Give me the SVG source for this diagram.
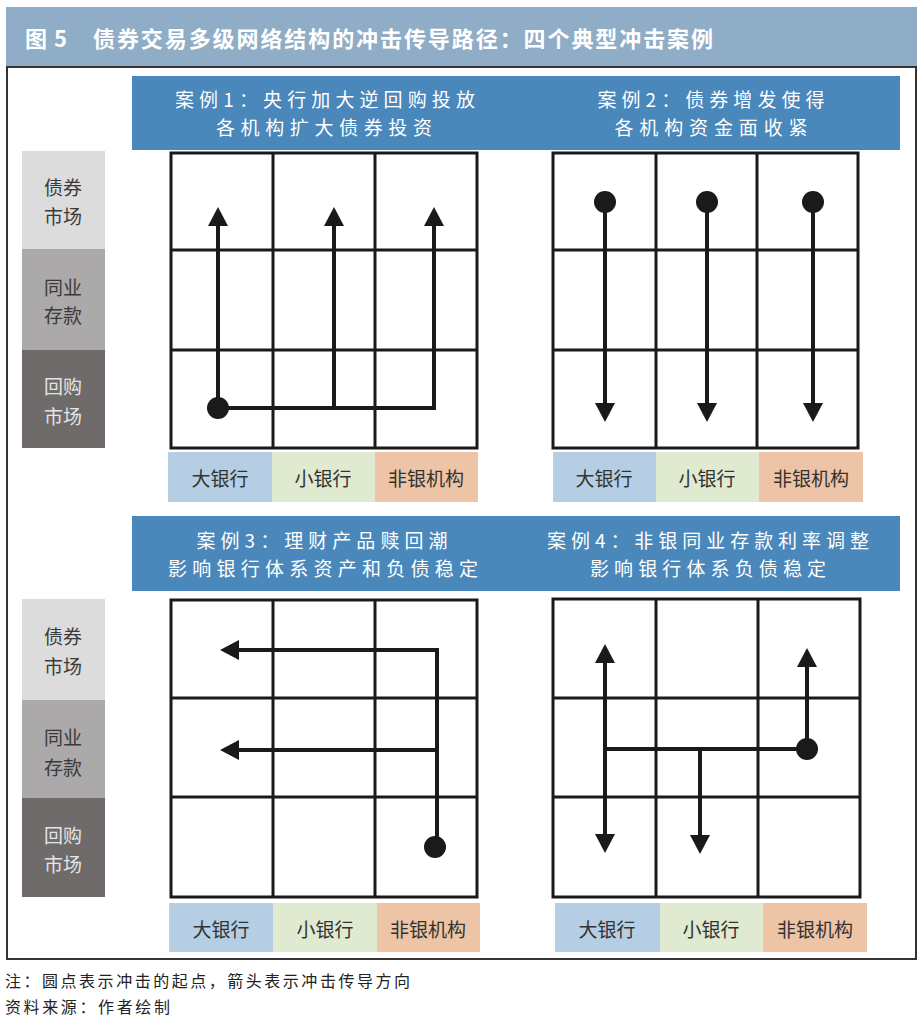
<svg xmlns="http://www.w3.org/2000/svg" width="923" height="1017" viewBox="0 0 923 1017">
<defs>
<style>
.cjk{font-family:"Noto Sans CJK SC","Liberation Sans",sans-serif;}
.title{font-size:22px;font-weight:700;fill:#ffffff;}
.hd{font-size:19px;fill:#ffffff;text-anchor:middle;dominant-baseline:central;}
.rl{font-size:19px;text-anchor:middle;dominant-baseline:central;fill:#3a3a3a;}
.rl2{fill:#e4e4e4;}
.cl{font-size:19px;text-anchor:middle;dominant-baseline:central;fill:#333333;}
.note{font-size:16px;fill:#222222;dominant-baseline:central;}
.grid{fill:none;stroke:#1a1a1a;stroke-width:3;}
.flow{fill:none;stroke:#1a1a1a;stroke-width:4;stroke-linejoin:miter;marker-end:url(#ah);}
.dot{fill:#1a1a1a;}
.hbar{fill:#4a87bb;}
.r1{fill:#dcdcdc;}
.r2{fill:#aba9a9;}
.r3{fill:#6f6b6b;}
.cb{fill:#b5cee4;}
.cg{fill:#dfead0;}
.co{fill:#edc4a6;}
</style>
<marker id="ah" viewBox="0 0 19 20" markerWidth="19" markerHeight="20" markerUnits="userSpaceOnUse" refX="2" refY="10" orient="auto">
<path d="M0,0 L19,10 L0,20 z" fill="#1a1a1a"/>
</marker>
</defs>
<rect x="0" y="0" width="923" height="1017" fill="#ffffff"/>

<g id="title">
<rect x="6" y="7" width="911" height="60" fill="#8fadc6"/>
<text class="cjk title" x="25" y="47" textLength="42">图 5</text>
<text class="cjk title" x="93" y="47" textLength="620" lengthAdjust="spacing">债券交易多级网络结构的冲击传导路径：四个典型冲击案例</text>
</g>
<rect id="frame" x="7" y="67" width="909" height="892" fill="none" stroke="#333333" stroke-width="2"/>

<g id="headers">
<rect class="hbar" x="132" y="76" width="768" height="74"/>
<rect class="hbar" x="132" y="516" width="768" height="75"/>
<text class="cjk hd" x="325" y="98" textLength="300">案例1：央行加大逆回购投放</text>
<text class="cjk hd" x="324" y="126" textLength="216">各机构扩大债券投资</text>
<text class="cjk hd" x="711" y="98" textLength="227">案例2：债券增发使得</text>
<text class="cjk hd" x="711" y="126" textLength="193">各机构资金面收紧</text>
<text class="cjk hd" x="322" y="539" textLength="251">案例3：理财产品赎回潮</text>
<text class="cjk hd" x="323" y="567" textLength="310">影响银行体系资产和负债稳定</text>
<text class="cjk hd" x="708" y="539" textLength="322">案例4：非银同业存款利率调整</text>
<text class="cjk hd" x="708" y="567" textLength="236">影响银行体系负债稳定</text>
</g>

<g id="row-labels-top">
<rect class="r1" x="22" y="151" width="83" height="98"/>
<rect class="r2" x="22" y="249" width="83" height="101"/>
<rect class="r3" x="22" y="350" width="83" height="98"/>
<text class="cjk rl" x="63" y="186">债券</text>
<text class="cjk rl" x="63" y="215">市场</text>
<text class="cjk rl" x="63" y="286">同业</text>
<text class="cjk rl" x="63" y="314">存款</text>
<text class="cjk rl rl2" x="63" y="385">回购</text>
<text class="cjk rl rl2" x="63" y="415">市场</text>
</g>
<g id="row-labels-bottom">
<rect class="r1" x="22" y="599" width="83" height="101"/>
<rect class="r2" x="22" y="700" width="83" height="98"/>
<rect class="r3" x="22" y="798" width="83" height="99"/>
<text class="cjk rl" x="63" y="635">债券</text>
<text class="cjk rl" x="63" y="665">市场</text>
<text class="cjk rl" x="63" y="736">同业</text>
<text class="cjk rl" x="63" y="766">存款</text>
<text class="cjk rl rl2" x="63" y="834">回购</text>
<text class="cjk rl rl2" x="63" y="863">市场</text>
</g>

<g id="case1">
<path class="grid" d="M171,153 H477 V448 H171 Z M273,153 V448 M375,153 V448 M171,250 H477 M171,350 H477"/>
<rect class="cb" x="168" y="452" width="104" height="50"/>
<rect class="cg" x="272" y="452" width="103" height="50"/>
<rect class="co" x="375" y="452" width="103" height="50"/>
<text class="cjk cl" x="220" y="477">大银行</text>
<text class="cjk cl" x="323" y="477">小银行</text>
<text class="cjk cl" x="426" y="477">非银机构</text>
</g>
<g id="case2">
<path class="grid" d="M553,153 H858 V448 H553 Z M656,153 V448 M757,153 V448 M553,250 H858 M553,350 H858"/>
<rect class="cb" x="553" y="452" width="103" height="50"/>
<rect class="cg" x="656" y="452" width="103" height="50"/>
<rect class="co" x="759" y="452" width="104" height="50"/>
<text class="cjk cl" x="604" y="477">大银行</text>
<text class="cjk cl" x="707" y="477">小银行</text>
<text class="cjk cl" x="811" y="477">非银机构</text>
</g>
<g id="case3">
<path class="grid" d="M171,600 H477 V897 H171 Z M273,600 V897 M375,600 V897 M171,698 H477 M171,797 H477"/>
<rect class="cb" x="169" y="903" width="104" height="49"/>
<rect class="cg" x="273" y="903" width="104" height="49"/>
<rect class="co" x="377" y="903" width="103" height="49"/>
<text class="cjk cl" x="221" y="928">大银行</text>
<text class="cjk cl" x="325" y="928">小银行</text>
<text class="cjk cl" x="428" y="928">非银机构</text>
</g>
<g id="case4">
<path class="grid" d="M553,599 H860 V897 H553 Z M656,599 V897 M758,599 V897 M553,698 H860 M553,797 H860"/>
<rect class="cb" x="555" y="903" width="105" height="49"/>
<rect class="cg" x="660" y="903" width="103" height="49"/>
<rect class="co" x="763" y="903" width="104" height="49"/>
<text class="cjk cl" x="607" y="928">大银行</text>
<text class="cjk cl" x="711" y="928">小银行</text>
<text class="cjk cl" x="815" y="928">非银机构</text>
</g>

<g id="connectors">
<path class="flow" d="M218,408 V224"/>
<path class="flow" d="M334,408 V224"/>
<path class="flow" d="M218,408 H434 V224"/>
<circle class="dot" cx="218" cy="408" r="11"/>

<path class="flow" d="M605,202 V405"/>
<path class="flow" d="M707,202 V405"/>
<path class="flow" d="M813,202 V405"/>
<circle class="dot" cx="605" cy="202" r="11"/>
<circle class="dot" cx="707" cy="202" r="11"/>
<circle class="dot" cx="813" cy="202" r="11"/>

<path class="flow" d="M437,847 V650 H237"/>
<path class="flow" d="M437,750 H237"/>
<circle class="dot" cx="435" cy="847" r="11"/>

<path class="flow" d="M807,749 H605 V661"/>
<path class="flow" d="M605,749 V836"/>
<path class="flow" d="M700,749 V837"/>
<path class="flow" d="M807,749 V665"/>
<circle class="dot" cx="807" cy="749" r="11"/>
</g>

<g id="notes">
<text class="cjk note" x="5" y="980" textLength="405">注：圆点表示冲击的起点，箭头表示冲击传导方向</text>
<text class="cjk note" x="5" y="1006" textLength="165">资料来源：作者绘制</text>
</g>
</svg>
